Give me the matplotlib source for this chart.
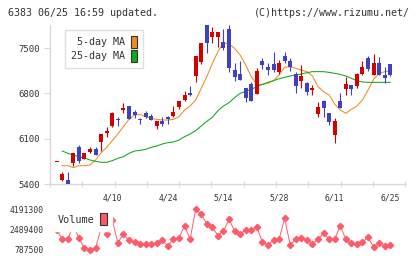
import matplotlib
matplotlib.use("Agg")
import matplotlib.pyplot as plt
from matplotlib.patches import Patch
import numpy as np

# daily candles, index 0 = first day shown
opens = [5745, 5462, 5462, 5729, 5967, 5791, 5899, 5936, 6054, 6183,
         6296, 6399, 6543, 6605, 6508, 6392, 6492, 6450, 6301, 6373,
         6435, 6450, 6594, 6693, 6806, 7073, 7290, 7850, 7667, 7678,
         7589, 7795, 7161, 7100, 6883, 6945, 6791, 7300, 7212, 7254,
         7126, 7378, 7300, 7095, 6996, 6965, 6852, 6482, 6687, 6492,
         6157, 6682, 6868, 6930, 6919, 7100, 7351, 7084, 7274, 7084,
         7254]
highs = [5745, 5590, 5590, 5884, 6002, 5874, 5976, 5976, 6173, 6285,
         6512, 6440, 6656, 6605, 6543, 6424, 6528, 6487, 6373, 6430,
         6450, 6605, 6682, 6842, 6914, 7378, 7574, 7850, 7821, 7744,
         7790, 7850, 7265, 7300, 6883, 6981, 7187, 7351, 7274, 7435,
         7316, 7435, 7342, 7135, 7239, 6981, 6930, 6672, 6698, 6492,
         6415, 6801, 7049, 6930, 7120, 7300, 7382, 7409, 7367, 7212,
         7254]
lows = [5745, 5446, 5400, 5678, 5729, 5791, 5884, 5843, 5914, 6121,
        6285, 6296, 6502, 6404, 6424, 6322, 6415, 6389, 6250, 6301,
        6327, 6430, 6554, 6687, 6755, 6971, 7255, 7420, 7583, 7521,
        7470, 7135, 6991, 7007, 6672, 6687, 6791, 7172, 7084, 7135,
        7100, 7265, 7150, 6811, 6888, 6775, 6775, 6440, 6440, 6312,
        6038, 6569, 6775, 6775, 6888, 7084, 7150, 7084, 7084, 6956,
        7069]
closes = [5745, 5555, 5400, 5874, 5760, 5874, 5941, 5843, 6173, 6219,
          6492, 6389, 6579, 6404, 6466, 6386, 6440, 6389, 6373, 6332,
          6399, 6512, 6682, 6770, 6770, 7378, 7574, 7574, 7744, 7744,
          7497, 7187, 7058, 7007, 6733, 6687, 7146, 7239, 7161, 7161,
          7274, 7300, 7212, 6919, 7069, 6826, 6883, 6585, 6569, 6363,
          6373, 6569, 6940, 6868, 7100, 7212, 7177, 7274, 7084, 7043,
          7084]

nan = np.nan
ma5 = [nan, 5683, 5683, 5652, 5683, 5683, 5694, 5771, 5884, 5967,
       6070, 6173, 6286, 6399, 6466, 6476, 6440, 6415, 6399, 6389,
       6389, 6399, 6440, 6543, 6605, 6698, 6878, 7058, 7264, 7445,
       7584, 7563, 7496, 7393, 7238, 7058, 6940, 6940, 6955, 6997,
       7084, 7203, 7213, 7187, 7161, 7136, 7069, 6904, 6827, 6775,
       6636, 6543, 6492, 6554, 6605, 6698, 6852, 7017, 7110, 7136,
       7151]
ma25 = [nan, 5910, 5874, 5848, 5822, 5802, 5771, 5750, 5735, 5735,
        5761, 5797, 5822, 5874, 5910, 5920, 5936, 5967, 5987, 6018,
        6039, 6049, 6080, 6131, 6173, 6224, 6296, 6368, 6430, 6533,
        6605, 6657, 6734, 6801, 6832, 6863, 6904, 6940, 6971, 6997,
        7027, 7048, 7069, 7084, 7100, 7120, 7136, 7136, 7136, 7125,
        7110, 7094, 7069, 7033, 6997, 6976, 6971, 6971, 6971, 6971,
        6971]
volume = [2430000, 1660000, 1660000, 2850000, 1710000, 900000, 760000, 900000, 2600000, 2100000,
          3280000, 1350000, 2060000, 1550000, 1410000, 1260000, 1210000, 1240000, 1300000, 1550000,
          1070000, 1660000, 1770000, 2790000, 1660000, 4190000, 3770000, 2940000, 2660000, 1960000,
          2340000, 3340000, 2340000, 2090000, 2430000, 2430000, 2660000, 1410000, 1150000, 1580000,
          1640000, 3420000, 1150000, 1640000, 1720000, 1580000, 1240000, 1640000, 2150000, 1640000,
          1640000, 2790000, 1640000, 1300000, 1240000, 1380000, 1810000, 960000, 1300000, 1070000,
          1130000]

date_pos = [10, 20, 30, 40, 50, 60]
date_labels = ["4/10", "4/24", "5/14", "5/28", "6/11", "6/25"]
price_ticks = [5400, 6100, 6800, 7500]
vol_ticks = [787500, 2489400, 4191300]

RED = "#d40000"
BLUE = "#4040c0"
ORANGE = "#f08c1c"
GREEN = "#10a818"
VOL = "#ff5a68"
GRID = "#d8d8d8"
TXT = "#333333"
MONO = "DejaVu Sans Mono"

W, H = 420, 259
fig = plt.figure(figsize=(W / 100, H / 100), dpi=100)
ax = fig.add_axes([50 / W, 1 - 184 / H, 355.3 / W, 159 / H])
axv = fig.add_axes([50 / W, 1 - 256 / H, 355.3 / W, 53 / H])

x = np.arange(len(opens))
o = np.array(opens, float)
c = np.array(closes, float)
up = c >= o
cols = [RED if u else BLUE for u in up]

# wicks then bodies
ax.vlines(x, lows, highs, colors=cols, lw=0.8, zorder=3)
body = np.maximum(np.abs(c - o), 12)
ax.bar(x, body, bottom=np.minimum(o, c), width=0.72, color=cols, lw=0, zorder=4)

ax.plot(x, ma5, color=ORANGE, lw=0.75, zorder=2)
ax.plot(x, ma25, color=GREEN, lw=0.75, zorder=2)

ax.set_xlim(-1.2, 62.7)
ax.set_ylim(5400, 7857)
for s in ["top", "right"]:
    ax.spines[s].set_visible(False)
for s in ["left", "bottom"]:
    ax.spines[s].set_color(GRID)
    ax.spines[s].set_linewidth(1)
ax.set_yticks(price_ticks)
ax.set_yticklabels([str(p) for p in price_ticks], family=MONO, fontsize=6.5, color=TXT)
ax.tick_params(axis="y", length=4.3, width=0.8, color=GRID, pad=3)
ax.set_xticks(date_pos)
ax.set_xticklabels(date_labels, family=MONO, fontsize=5.8, color=TXT)
ax.set_xticks(np.linspace(-1.2, 62.7, 12), minor=True)
ax.tick_params(axis="x", which="major", length=0, pad=6.5)
ax.tick_params(axis="x", which="minor", direction="inout", length=5, width=0.8, color=GRID)

handles = [Patch(facecolor=ORANGE, edgecolor="#333333", lw=0.8),
           Patch(facecolor=GREEN, edgecolor="#333333", lw=0.8)]
leg = ax.legend(handles, [" 5-day MA", "25-day MA"], loc="upper left",
                bbox_to_anchor=(65 / W, 1 - 30 / H), bbox_transform=fig.transFigure,
                borderaxespad=0, markerfirst=False, handlelength=0.65, handleheight=1.4,
                handletextpad=0.55, labelspacing=0.25, borderpad=0.6, fancybox=False,
                prop={"family": MONO, "size": 7.2})
leg.get_frame().set_edgecolor(GRID)
leg.get_frame().set_linewidth(1)
for t in leg.get_texts():
    t.set_color(TXT)

# volume panel
axv.plot(x, volume, color=VOL, lw=0.7, marker="D", ms=3.2, mec=VOL, mfc=VOL, zorder=2)
axv.set_xlim(-1.2, 62.7)
axv.set_ylim(217400, 4727400)
for s in axv.spines.values():
    s.set_visible(False)
axv.set_xticks([])
axv.set_yticks(vol_ticks)
axv.set_yticklabels([str(v) for v in vol_ticks], family=MONO, fontsize=5.8, color=TXT)
axv.tick_params(axis="y", length=0, pad=4.8)
vleg = axv.legend([Patch(facecolor=VOL, edgecolor="#333333", lw=0.8)], ["Volume"],
                  loc="upper left", bbox_to_anchor=(53 / W, 1 - 208 / H),
                  bbox_transform=fig.transFigure, borderaxespad=0, markerfirst=False,
                  handlelength=0.65, handleheight=1.5, handletextpad=0.55, borderpad=0.5,
                  fancybox=False, framealpha=1, prop={"family": MONO, "size": 7.3})
vleg.get_frame().set_edgecolor("white")
for t in vleg.get_texts():
    t.set_color(TXT)

fig.text(8 / W, 1 - 12.5 / H, "6383 06/25 16:59 updated.", ha="left", va="center",
         family=MONO, fontsize=7.2, color=TXT)
fig.text(410 / W, 1 - 12.5 / H, "(C)https://www.rizumu.net/", ha="right", va="center",
         family=MONO, fontsize=7.2, color=TXT)

fig.savefig("out.png", dpi=100, facecolor="white")
